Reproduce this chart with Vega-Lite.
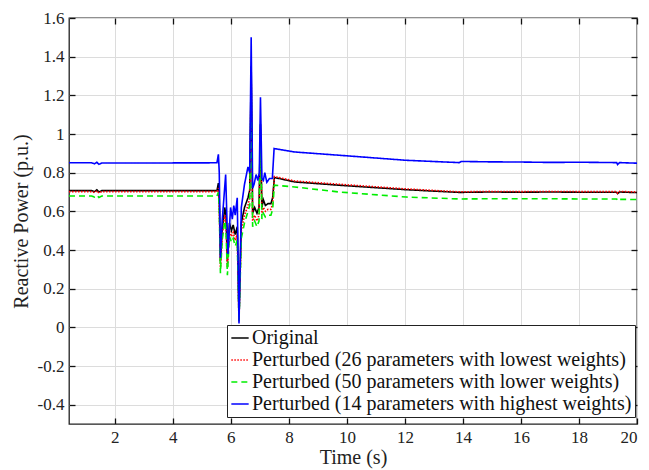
{
  "$schema": "https://vega.github.io/schema/vega-lite/v6.json",
  "width": 568,
  "height": 406,
  "autosize": {"type": "none"},
  "padding": {"left": 69, "top": 18, "right": 12, "bottom": 46},
  "background": "white",
  "config": {
    "view": {"stroke": "#222", "strokeWidth": 1.3},
    "font": "Liberation Serif",
    "axis": {"domain": false, "labelFont": "Liberation Serif", "titleFont": "Liberation Serif", "labelColor": "#222", "titleColor": "#222", "titleFontWeight": "normal", "tickColor": "#111", "tickOpacity": 1, "tickWidth": 1.3, "gridColor": "#dcdcdc", "gridWidth": 1}
  },
  "datasets": {
    "orig": [
      {"t":0.42,"v":0.707},{"t":1.2,"v":0.707},{"t":1.3,"v":0.702},{"t":1.38,"v":0.711},{"t":1.45,"v":0.700},{"t":1.55,"v":0.707},{"t":3,"v":0.707},{"t":5.52,"v":0.707},
      {"t":5.57,"v":0.746},{"t":5.6,"v":0.66},{"t":5.64,"v":0.34},{"t":5.7,"v":0.5},{"t":5.79,"v":0.62},{"t":5.83,"v":0.58},{"t":5.88,"v":0.34},{"t":5.95,"v":0.54},{"t":6.02,"v":0.50},{"t":6.08,"v":0.53},{"t":6.15,"v":0.48},{"t":6.22,"v":0.52},{"t":6.28,"v":0.04},{"t":6.36,"v":0.54},{"t":6.47,"v":0.62},{"t":6.59,"v":0.67},{"t":6.65,"v":0.71},{"t":6.7,"v":1.35},{"t":6.75,"v":0.59},{"t":6.82,"v":0.62},{"t":6.9,"v":0.59},{"t":6.97,"v":0.62},{"t":7.02,"v":1.05},{"t":7.07,"v":0.62},{"t":7.12,"v":0.66},{"t":7.19,"v":0.63},{"t":7.28,"v":0.64},{"t":7.38,"v":0.64},{"t":7.44,"v":0.67},{"t":7.5,"v":0.775},
      {"t":8.2,"v":0.752},{"t":9.74,"v":0.735},{"t":12.04,"v":0.712},{"t":13.87,"v":0.698},{"t":14.9,"v":0.70},{"t":16,"v":0.699},{"t":17,"v":0.70},{"t":18,"v":0.699},{"t":19.3,"v":0.699},{"t":19.33,"v":0.692},{"t":19.4,"v":0.70},{"t":20,"v":0.697}
    ],
    "p26": [
      {"t":0.42,"v":0.702},{"t":1.2,"v":0.702},{"t":1.3,"v":0.697},{"t":1.38,"v":0.706},{"t":1.45,"v":0.695},{"t":1.55,"v":0.702},{"t":3,"v":0.702},{"t":5.52,"v":0.702},
      {"t":5.57,"v":0.72},{"t":5.6,"v":0.63},{"t":5.64,"v":0.31},{"t":5.7,"v":0.47},{"t":5.79,"v":0.58},{"t":5.83,"v":0.55},{"t":5.88,"v":0.31},{"t":5.95,"v":0.50},{"t":6.02,"v":0.47},{"t":6.08,"v":0.49},{"t":6.15,"v":0.45},{"t":6.22,"v":0.48},{"t":6.28,"v":0.03},{"t":6.36,"v":0.50},{"t":6.47,"v":0.58},{"t":6.59,"v":0.63},{"t":6.65,"v":0.67},{"t":6.7,"v":1.3},{"t":6.75,"v":0.55},{"t":6.82,"v":0.58},{"t":6.9,"v":0.55},{"t":6.97,"v":0.58},{"t":7.02,"v":1.02},{"t":7.07,"v":0.59},{"t":7.12,"v":0.62},{"t":7.19,"v":0.60},{"t":7.28,"v":0.61},{"t":7.38,"v":0.61},{"t":7.44,"v":0.64},{"t":7.5,"v":0.78},
      {"t":8.2,"v":0.757},{"t":9.74,"v":0.740},{"t":12.04,"v":0.716},{"t":13.87,"v":0.701},{"t":14.9,"v":0.703},{"t":16,"v":0.702},{"t":17,"v":0.703},{"t":18,"v":0.702},{"t":19.3,"v":0.702},{"t":19.33,"v":0.694},{"t":19.4,"v":0.703},{"t":20,"v":0.700}
    ],
    "p50": [
      {"t":0.42,"v":0.679},{"t":1.2,"v":0.679},{"t":1.3,"v":0.674},{"t":1.38,"v":0.683},{"t":1.45,"v":0.672},{"t":1.55,"v":0.679},{"t":3,"v":0.679},{"t":5.52,"v":0.679},
      {"t":5.57,"v":0.70},{"t":5.6,"v":0.62},{"t":5.64,"v":0.28},{"t":5.7,"v":0.45},{"t":5.79,"v":0.55},{"t":5.83,"v":0.52},{"t":5.88,"v":0.27},{"t":5.95,"v":0.47},{"t":6.02,"v":0.44},{"t":6.08,"v":0.46},{"t":6.15,"v":0.42},{"t":6.22,"v":0.45},{"t":6.28,"v":0.03},{"t":6.36,"v":0.46},{"t":6.47,"v":0.54},{"t":6.59,"v":0.60},{"t":6.65,"v":0.63},{"t":6.7,"v":1.25},{"t":6.75,"v":0.52},{"t":6.82,"v":0.55},{"t":6.9,"v":0.52},{"t":6.97,"v":0.55},{"t":7.02,"v":1.0},{"t":7.07,"v":0.56},{"t":7.12,"v":0.59},{"t":7.19,"v":0.57},{"t":7.28,"v":0.58},{"t":7.38,"v":0.58},{"t":7.44,"v":0.61},{"t":7.5,"v":0.735},
      {"t":8.2,"v":0.726},{"t":9.74,"v":0.700},{"t":12.04,"v":0.674},{"t":13.87,"v":0.664},{"t":14.9,"v":0.665},{"t":16,"v":0.665},{"t":17,"v":0.665},{"t":18,"v":0.664},{"t":19.3,"v":0.664},{"t":19.33,"v":0.655},{"t":19.4,"v":0.662},{"t":20,"v":0.661}
    ],
    "p14": [
      {"t":0.42,"v":0.851},{"t":1.2,"v":0.851},{"t":1.3,"v":0.846},{"t":1.38,"v":0.854},{"t":1.45,"v":0.843},{"t":1.55,"v":0.850},{"t":3,"v":0.850},{"t":5.52,"v":0.851},
      {"t":5.57,"v":0.895},{"t":5.6,"v":0.80},{"t":5.64,"v":0.36},{"t":5.7,"v":0.55},{"t":5.82,"v":0.79},{"t":5.9,"v":0.38},{"t":5.99,"v":0.62},{"t":6.05,"v":0.56},{"t":6.1,"v":0.63},{"t":6.15,"v":0.58},{"t":6.22,"v":0.67},{"t":6.28,"v":0.02},{"t":6.36,"v":0.62},{"t":6.47,"v":0.74},{"t":6.59,"v":0.83},{"t":6.65,"v":0.80},{"t":6.7,"v":1.50},{"t":6.75,"v":0.72},{"t":6.8,"v":0.74},{"t":6.87,"v":0.79},{"t":6.93,"v":0.76},{"t":6.98,"v":0.80},{"t":7.02,"v":1.19},{"t":7.07,"v":0.77},{"t":7.12,"v":0.76},{"t":7.17,"v":0.80},{"t":7.24,"v":0.75},{"t":7.33,"v":0.77},{"t":7.43,"v":0.77},{"t":7.49,"v":0.925},
      {"t":8.2,"v":0.907},{"t":9.74,"v":0.89},{"t":12.04,"v":0.864},{"t":13.87,"v":0.852},{"t":13.95,"v":0.858},{"t":14.9,"v":0.856},{"t":16,"v":0.855},{"t":17,"v":0.853},{"t":18,"v":0.854},{"t":19.3,"v":0.852},{"t":19.33,"v":0.842},{"t":19.4,"v":0.852},{"t":20,"v":0.849}
    ]
  },
  "resolve": {"axis": {"x": "independent", "y": "independent"}},
  "layer": [
    {
      "data": {"name": "orig"},
      "mark": {"type": "line", "strokeWidth": 1.6, "clip": true},
      "encoding": {
        "x": {"field": "t", "type": "quantitative", "scale": {"domain": [0.42, 20], "nice": false, "zero": false},
          "axis": {"values": [2,4,6,8,10,12,14,16,18,20], "title": "Time (s)", "titleFontSize": 20, "labelFontSize": 17, "ticks": false, "labelPadding": 5, "titlePadding": 2, "grid": true, "labelExpr": "'' + datum.value"}},
        "y": {"field": "v", "type": "quantitative", "scale": {"domain": [-0.5, 1.6], "nice": false, "zero": false},
          "axis": {"values": [-0.4,-0.2,0,0.2,0.4,0.6,0.8,1,1.2,1.4,1.6], "title": "Reactive Power (p.u.)", "titleFontSize": 20, "labelFontSize": 17, "ticks": false, "labelPadding": 5, "titlePadding": 6, "grid": true, "labelExpr": "'' + datum.value"}},
        "color": {"datum": "Original", "type": "nominal",
          "scale": {"domain": ["Original", "Perturbed (26 parameters with lowest weights)", "Perturbed (50 parameters with lower weights)", "Perturbed (14 parameters with highest weights)"], "range": ["#000000", "#ff0000", "#00ee00", "#0000ff"]},
          "legend": {"title": null, "orient": "none", "legendX": 158, "legendY": 307, "symbolType": "stroke", "symbolSize": 300, "symbolStrokeWidth": 1.5, "labelFont": "Liberation Serif", "labelFontSize": 20, "labelColor": "#111", "strokeColor": "#222", "fillColor": "white", "padding": 3, "rowPadding": 2, "labelOffset": 2, "labelLimit": 500}},
        "strokeDash": {"datum": "Original", "type": "nominal",
          "scale": {"domain": ["Original", "Perturbed (26 parameters with lowest weights)", "Perturbed (50 parameters with lower weights)", "Perturbed (14 parameters with highest weights)"], "range": [[1,0],[1.5,1.5],[6,4],[1,0]]},
          "legend": {"title": null, "orient": "none", "legendX": 158, "legendY": 307, "symbolType": "stroke", "symbolSize": 300, "symbolStrokeWidth": 1.5, "labelFont": "Liberation Serif", "labelFontSize": 20, "labelColor": "#111", "strokeColor": "#222", "fillColor": "white", "padding": 3, "rowPadding": 2, "labelOffset": 2, "labelLimit": 500}}
      }
    },
    {
      "data": {"name": "p26"},
      "mark": {"type": "line", "strokeWidth": 1.6, "clip": true},
      "encoding": {
        "x": {"field": "t", "type": "quantitative",
          "axis": {"orient": "bottom", "values": [2,4,6,8,10,12,14,16,18,20], "labels": false, "title": null, "tickSize": -6, "grid": false}},
        "y": {"field": "v", "type": "quantitative",
          "axis": {"orient": "left", "values": [-0.4,-0.2,0,0.2,0.4,0.6,0.8,1,1.2,1.4,1.6], "labels": false, "title": null, "tickSize": -6, "grid": false}},
        "color": {"datum": "Perturbed (26 parameters with lowest weights)", "type": "nominal"},
        "strokeDash": {"datum": "Perturbed (26 parameters with lowest weights)", "type": "nominal"}
      }
    },
    {
      "data": {"name": "p50"},
      "mark": {"type": "line", "strokeWidth": 1.6, "clip": true},
      "encoding": {
        "x": {"field": "t", "type": "quantitative", "axis": null},
        "y": {"field": "v", "type": "quantitative", "axis": null},
        "color": {"datum": "Perturbed (50 parameters with lower weights)", "type": "nominal"},
        "strokeDash": {"datum": "Perturbed (50 parameters with lower weights)", "type": "nominal"}
      }
    },
    {
      "data": {"name": "p14"},
      "mark": {"type": "line", "strokeWidth": 1.6, "clip": true},
      "encoding": {
        "x": {"field": "t", "type": "quantitative",
          "axis": {"orient": "top", "values": [2,4,6,8,10,12,14,16,18,20], "labels": false, "title": null, "tickSize": -6, "grid": false}},
        "y": {"field": "v", "type": "quantitative",
          "axis": {"orient": "right", "values": [-0.4,-0.2,0,0.2,0.4,0.6,0.8,1,1.2,1.4,1.6], "labels": false, "title": null, "tickSize": -6, "grid": false}},
        "color": {"datum": "Perturbed (14 parameters with highest weights)", "type": "nominal"},
        "strokeDash": {"datum": "Perturbed (14 parameters with highest weights)", "type": "nominal"}
      }
    }
  ]
}
